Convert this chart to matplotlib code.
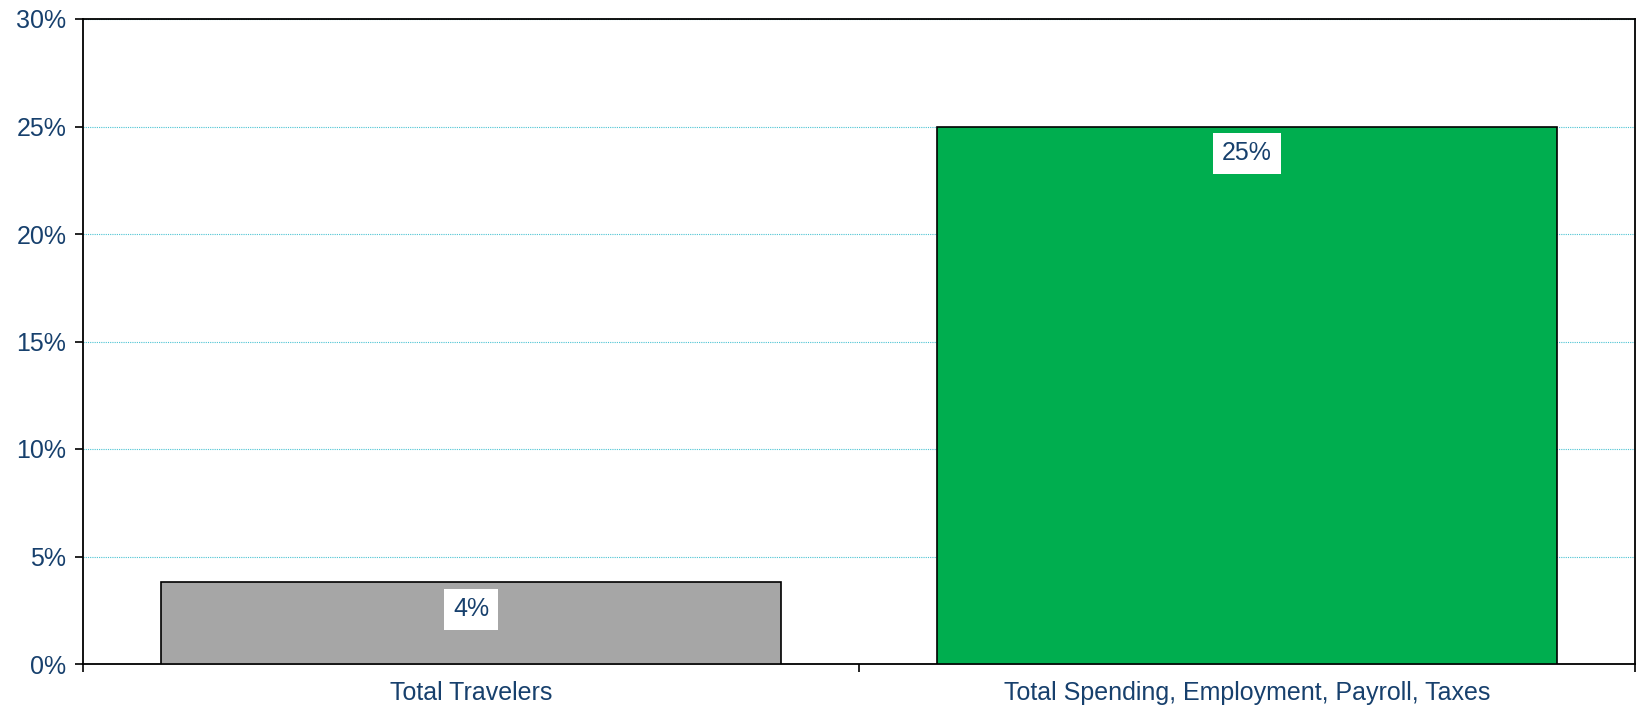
import numpy as np
from matplotlib import pyplot as plt
from matplotlib.ticker import FixedLocator, NullFormatter

plt.rcParams['font.family'] = ['Liberation Sans', 'DejaVu Sans']

categories = ["Total Travelers", "Total Spending, Employment, Payroll, Taxes"]
values = [3.8, 25.0]
labels = ["4%", "25%"]
colors = ["#A6A6A6", "#00AE4F"]
yticks = [0, 5, 10, 15, 20, 25, 30]

text_col = "#17406D"
fs = 18

fig = plt.figure(figsize=(16.37, 7.08), dpi=100)
ax = fig.add_axes([83 / 1637, 1 - 664 / 708, (1635 - 83) / 1637, (664 - 19) / 708])

x = np.arange(len(categories))
ax.bar(x, values, width=0.8, color=colors, edgecolor="black", linewidth=1.2, zorder=3)

for xi, v, lab in zip(x, values, labels):
    ax.annotate(lab, (xi, v), xytext=(0, -27), textcoords="offset pixels",
                ha="center", va="center", fontsize=fs, color=text_col, zorder=4,
                bbox=dict(boxstyle="square,pad=0.35", fc="white", ec="none"))

ax.set_xlim(-0.5, len(categories) - 0.5)
ax.set_ylim(0, 30)
ax.set_yticks(yticks)
ax.set_yticklabels([f"{t}%" for t in yticks], fontsize=fs, color=text_col)
ax.yaxis.grid(True, color="#4BC3D3", linestyle=(0, (1, 1)), linewidth=0.8, zorder=0)

# tick marks on category boundaries, labels centred under bars
ax.xaxis.set_major_locator(FixedLocator(np.arange(len(categories) + 1) - 0.5))
ax.xaxis.set_major_formatter(NullFormatter())
ax.set_xticks(x, minor=True)
ax.set_xticklabels(categories, minor=True, fontsize=fs, color=text_col)
ax.tick_params(axis="x", which="minor", length=0, pad=12)
ax.tick_params(axis="x", which="major", length=6, width=1.2, direction="out")
ax.tick_params(axis="y", length=6, width=1.2, direction="out", pad=6)

for s in ax.spines.values():
    s.set_color("black")
    s.set_linewidth(1.3)

fig.savefig("out.png", dpi=100)
